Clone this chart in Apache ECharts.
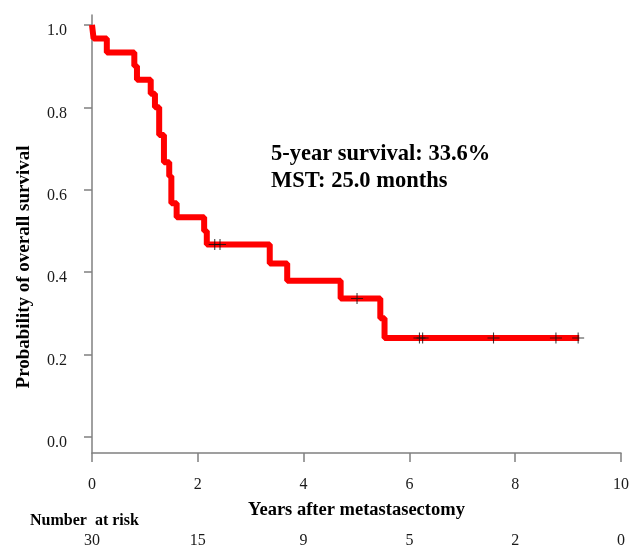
<!DOCTYPE html>
<html>
<head>
<meta charset="utf-8">
<script src="https://cdn.jsdelivr.net/npm/echarts@6/dist/echarts.min.js"></script>
<style>html,body{margin:0;padding:0;background:#fff}#c{width:637px;height:549px}</style>
</head>
<body>
<div id="c"></div>
<script>
// Kaplan-Meier step points: [years, survival]
const kmTimes = [0, 0.03, 0.28, 0.80, 0.85, 1.11, 1.19, 1.27, 1.36, 1.46, 1.50, 1.60, 2.12, 2.17, 3.36, 3.69, 4.70, 5.45, 5.53, 9.21];
const kmSurv  = [1.0, 0.967, 0.933, 0.900, 0.867, 0.833, 0.800, 0.733, 0.667, 0.633, 0.567, 0.533, 0.500, 0.467, 0.421, 0.379, 0.336, 0.288, 0.240, 0.240];
// Censored observations
const censorTimes = [2.32, 2.42, 5.01, 6.19, 6.25, 7.59, 8.77, 9.19];
const censorSurv  = [0.467, 0.467, 0.336, 0.240, 0.240, 0.240, 0.240, 0.240];
// Axis ticks
const xTicks = [0, 2, 4, 6, 8, 10];
const yTicks = [0, 0.2, 0.4, 0.6, 0.8, 1.0];
// Number at risk at each x tick
const atRisk = [30, 15, 9, 5, 2, 0];
const annotation = ['5-year survival: 33.6%', 'MST: 25.0 months'];

const serif = '"Liberation Serif", "Times New Roman", serif';
const chart = echarts.init(document.getElementById('c'));
chart.setOption({
  animation: false,
  backgroundColor: '#fff',
  grid: { left: 92, right: 16, top: 15, bottom: 96 },
  xAxis: [{
    type: 'value', min: 0, max: 10, interval: 2,
    axisLine: { show: true, onZero: false, lineStyle: { color: '#808080', width: 1.5 } },
    axisTick: { show: true, length: 9, lineStyle: { color: '#808080', width: 1.5 } },
    splitLine: { show: false },
    axisLabel: { margin: 24, fontFamily: serif, fontSize: 16, color: '#1a1a1a' },
    name: 'Years after metastasectomy', nameLocation: 'middle', nameGap: 48,
    nameTextStyle: { fontFamily: serif, fontSize: 18.5, fontWeight: 'bold', color: '#000' }
  }, {
    type: 'value', min: 0, max: 10, interval: 2, position: 'bottom',
    axisLine: { show: false, onZero: false }, axisTick: { show: false }, splitLine: { show: false },
    axisLabel: { margin: 80, fontFamily: serif, fontSize: 16, color: '#1a1a1a',
      formatter: v => { const i = xTicks.indexOf(v); return i >= 0 ? String(atRisk[i]) : ''; } }
  }],
  yAxis: {
    type: 'value', min: -0.0388, max: 1.024,
    axisLine: { show: true, lineStyle: { color: '#808080', width: 1.5 } },
    axisTick: { show: true, length: 8, customValues: yTicks, lineStyle: { color: '#808080', width: 1.5 } },
    splitLine: { show: false },
    axisLabel: { margin: 25, customValues: yTicks, fontFamily: serif, fontSize: 16, color: '#1a1a1a',
      verticalAlign: 'top', lineHeight: 12, formatter: v => v.toFixed(1) }
  },
  graphic: [
    { type: 'text', x: 24, y: 267, rotation: Math.PI / 2,
      style: { text: 'Probability of overall survival', font: 'bold 19px ' + serif, fill: '#000', align: 'center', verticalAlign: 'middle' } },
    { type: 'text', left: 30, top: 513, style: { text: 'Number  at risk', font: 'bold 16px ' + serif, fill: '#000' } },
    { type: 'text', left: 271, top: 141, style: { text: annotation.join('\n'), font: 'bold 22.5px ' + serif, lineHeight: 27, fill: '#000' } }
  ],
  series: [{
    type: 'line', step: 'end', showSymbol: false, symbol: 'none',
    data: kmTimes.map((t, i) => [t, kmSurv[i]]),
    lineStyle: { color: '#ff0000', width: 6 }, z: 2
  }, {
    type: 'scatter',
    symbol: 'path://M5,0h1v11h-1zM0,5h11v1h-11z', symbolSize: [12, 11],
    itemStyle: { color: '#111' },
    data: censorTimes.map((t, i) => [t, censorSurv[i]]), z: 3
  }]
});
</script>
</body>
</html>
